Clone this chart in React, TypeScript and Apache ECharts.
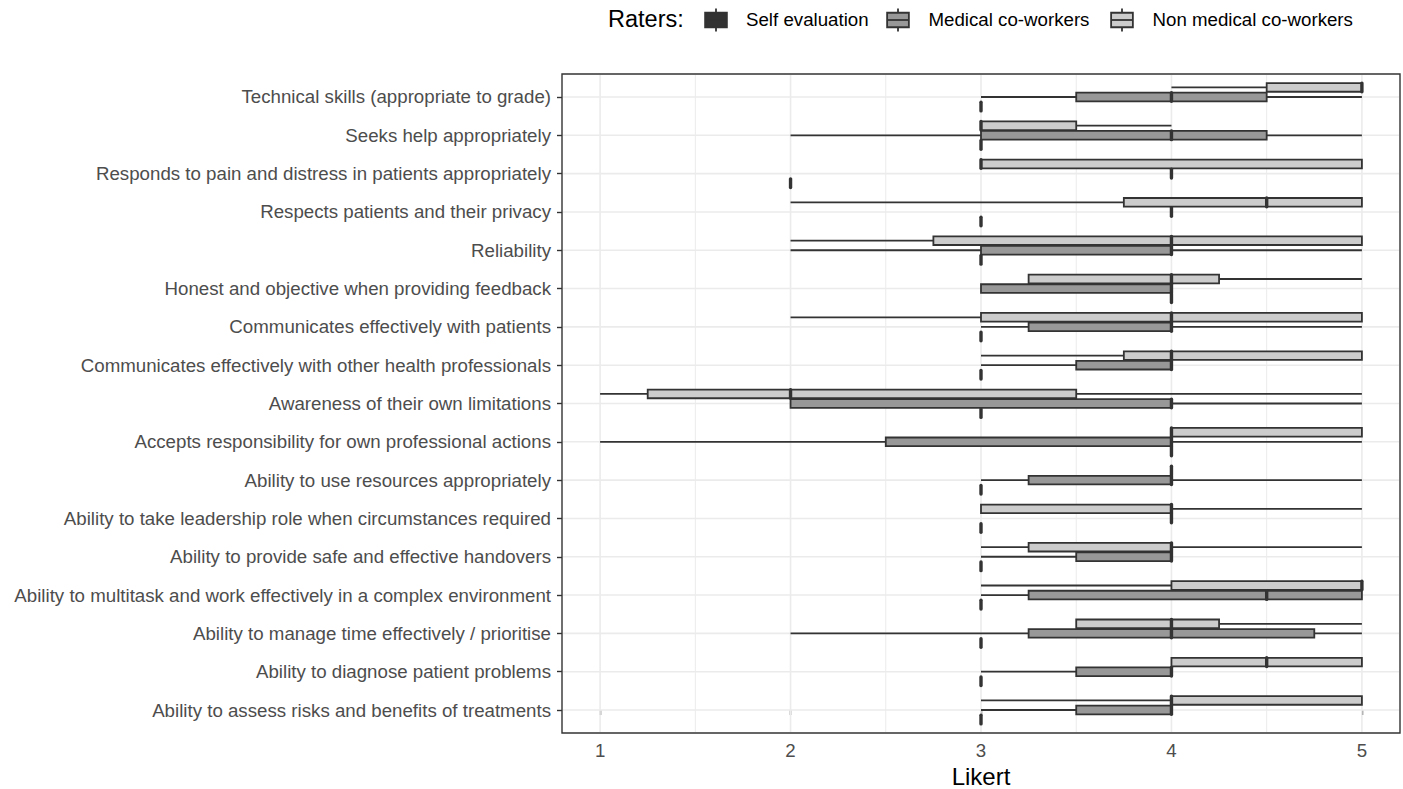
import React, { useEffect, useRef } from "react";
import * as echarts from "echarts";

// Categories listed bottom to top (as on the y axis)
const categories = [
  "Ability to assess risks and benefits of treatments",
  "Ability to diagnose patient problems",
  "Ability to manage time effectively / prioritise",
  "Ability to multitask and work effectively in a complex environment",
  "Ability to provide safe and effective handovers",
  "Ability to take leadership role when circumstances required",
  "Ability to use resources appropriately",
  "Accepts responsibility for own professional actions",
  "Awareness of their own limitations",
  "Communicates effectively with other health professionals",
  "Communicates effectively with patients",
  "Honest and objective when providing feedback",
  "Reliability",
  "Respects patients and their privacy",
  "Responds to pain and distress in patients appropriately",
  "Seeks help appropriately",
  "Technical skills (appropriate to grade)",
];

const raters = ["Self evaluation", "Medical co-workers", "Non medical co-workers"];

// Self evaluation: single score per item
const selfEvaluation = [3, 3, 3, 3, 3, 3, 3, 4, 3, 3, 3, 4, 3, 3, 2, 3, 3];

// [min, q1, median, q3, max]
const medicalCoWorkers = [
  [3, 3.5, 4, 4, 4],
  [3, 3.5, 4, 4, 4],
  [2, 3.25, 4, 4.75, 5],
  [3, 3.25, 4.5, 5, 5],
  [3, 3.5, 4, 4, 4],
  [4, 4, 4, 4, 4],
  [3, 3.25, 4, 4, 5],
  [1, 2.5, 4, 4, 5],
  [2, 2, 4, 4, 5],
  [3, 3.5, 4, 4, 4],
  [3, 3.25, 4, 4, 5],
  [3, 3, 4, 4, 4],
  [2, 3, 4, 4, 5],
  [4, 4, 4, 4, 4],
  [4, 4, 4, 4, 4],
  [2, 3, 4, 4.5, 5],
  [3, 3.5, 4, 4.5, 5],
];

const nonMedicalCoWorkers = [
  [3, 4, 4, 5, 5],
  [4, 4, 4.5, 5, 5],
  [3.5, 3.5, 4, 4.25, 5],
  [3, 4, 5, 5, 5],
  [3, 3.25, 4, 4, 5],
  [3, 3, 4, 4, 5],
  [4, 4, 4, 4, 4],
  [4, 4, 4, 5, 5],
  [1, 1.25, 2, 3.5, 5],
  [3, 3.75, 4, 5, 5],
  [2, 3, 4, 5, 5],
  [3.25, 3.25, 4, 4.25, 5],
  [2, 2.75, 4, 5, 5],
  [2, 3.75, 4.5, 5, 5],
  [3, 3, 3, 5, 5],
  [3, 3, 3, 3.5, 4],
  [4, 4.5, 5, 5, 5],
];

const xTicks = [1, 2, 3, 4, 5];
const xMinorGrid = [1.5, 2.5, 3.5, 4.5];

const FONT = '"Liberation Sans", Arial, Helvetica, sans-serif';
const DARK = "#333333";
const fills = ["#333333", "#989898", "#CCCCCC"];
const dodge = [-0.25, 0, 0.25]; // self (bottom), medical (middle), non-medical (top)
const HALF_BOX = 0.113;
const LABEL_SIZE = 18.7;
const LW = 1.8;

function boxRenderer(off: number, fill: string) {
  return (params: any, api: any) => {
    const c = api.value(0);
    const y = c + off;
    const p = (v: number) => api.coord([v, y]);
    const pMin = p(api.value(1));
    const pQ1 = p(api.value(2));
    const pMed = p(api.value(3));
    const pQ3 = p(api.value(4));
    const pMax = p(api.value(5));
    const yc = pMin[1];
    const hh = Math.abs(api.coord([0, y + HALF_BOX])[1] - yc);
    const children: any[] = [];
    if (pQ1[0] - pMin[0] > 0.5) {
      children.push({ type: "line", shape: { x1: pMin[0], y1: yc, x2: pQ1[0], y2: yc }, style: { stroke: DARK, lineWidth: LW } });
    }
    if (pMax[0] - pQ3[0] > 0.5) {
      children.push({ type: "line", shape: { x1: pQ3[0], y1: yc, x2: pMax[0], y2: yc }, style: { stroke: DARK, lineWidth: LW } });
    }
    children.push({
      type: "rect",
      shape: { x: pQ1[0], y: yc - hh, width: pQ3[0] - pQ1[0], height: 2 * hh },
      style: { fill, stroke: DARK, lineWidth: LW },
    });
    children.push({
      type: "line",
      shape: { x1: pMed[0], y1: yc - hh, x2: pMed[0], y2: yc + hh },
      style: { stroke: DARK, lineWidth: 3.4, lineCap: "round" },
    });
    return { type: "group", children };
  };
}

export default function App() {
  const ref = useRef<HTMLDivElement>(null);

  useEffect(() => {
    if (!ref.current) return;
    const chart = echarts.init(ref.current, undefined, { renderer: "svg" });

    const selfData = selfEvaluation.map((v, i) => [i, v, v, v, v, v]);
    const medData = medicalCoWorkers.map((s, i) => [i, ...s]);
    const nonMedData = nonMedicalCoWorkers.map((s, i) => [i, ...s]);
    const catIdx = categories.map((_, i) => i);

    const gridRender = (params: any, api: any) => {
      const cs = params.coordSys;
      const children: any[] = [];
      xMinorGrid.forEach((v) => {
        const x = api.coord([v, 0])[0];
        children.push({ type: "line", shape: { x1: x, y1: cs.y + 1, x2: x, y2: cs.y + cs.height - 1 }, style: { stroke: "#EBEBEB", lineWidth: 1 } });
      });
      xTicks.forEach((v) => {
        const x = api.coord([v, 0])[0];
        children.push({ type: "line", shape: { x1: x, y1: cs.y + 1, x2: x, y2: cs.y + cs.height - 1 }, style: { stroke: "#EBEBEB", lineWidth: 1.6 } });
      });
      catIdx.forEach((i) => {
        const y = api.coord([3, i])[1];
        children.push({ type: "line", shape: { x1: cs.x + 1, y1: y, x2: cs.x + cs.width - 1, y2: y }, style: { stroke: "#EBEBEB", lineWidth: 1.6 } });
      });
      return { type: "group", children };
    };

    const borderRender = (params: any) => {
      const cs = params.coordSys;
      return { type: "rect", shape: { x: cs.x, y: cs.y, width: cs.width, height: cs.height }, style: { fill: "none", stroke: DARK, lineWidth: 1.4 } };
    };

    // Legend (drawn like ggplot boxplot keys)
    const keyX = [701.5, 883.5, 1107.5];
    const textX = [746, 928.5, 1152.5];
    const KEY = 29;
    const cy = 20;
    const legendEls: any[] = [
      { type: "text", left: 608, top: cy - 13, style: { text: "Raters:", fontSize: 23.5, fontFamily: FONT, fill: "#000" } },
    ];
    raters.forEach((name, k) => {
      const x0 = keyX[k];
      const top = cy - KEY / 2;
      const cx = x0 + KEY / 2;
      legendEls.push({ type: "line", shape: { x1: cx, y1: top + KEY * 0.1, x2: cx, y2: top + KEY * 0.25 }, style: { stroke: DARK, lineWidth: LW } });
      legendEls.push({ type: "line", shape: { x1: cx, y1: top + KEY * 0.75, x2: cx, y2: top + KEY * 0.9 }, style: { stroke: DARK, lineWidth: LW } });
      legendEls.push({ type: "rect", shape: { x: x0 + KEY * 0.125, y: top + KEY * 0.25, width: KEY * 0.75, height: KEY * 0.5 }, style: { fill: fills[k], stroke: DARK, lineWidth: LW } });
      legendEls.push({ type: "line", shape: { x1: x0 + KEY * 0.125, y1: cy, x2: x0 + KEY * 0.875, y2: cy }, style: { stroke: DARK, lineWidth: LW } });
      legendEls.push({ type: "text", left: textX[k], top: cy - 10, style: { text: name, fontSize: LABEL_SIZE, fontFamily: FONT, fill: "#000" } });
    });

    chart.setOption({
      animation: false,
      backgroundColor: "#ffffff",
      textStyle: { fontFamily: FONT },
      grid: { left: 562, right: 3, top: 74, bottom: 56, containLabel: false, outerBoundsMode: "none" },
      xAxis: {
        type: "value",
        min: 0.8,
        max: 5.2,
        name: "Likert",
        nameLocation: "middle",
        nameGap: 31,
        nameTextStyle: { fontSize: 24, color: "#000", fontFamily: FONT },
        axisLine: { show: false },
        splitLine: { show: false },
        axisTick: { show: true, customValues: xTicks, length: 5, lineStyle: { color: DARK, width: 1.4 } },
        axisLabel: { customValues: xTicks, fontSize: LABEL_SIZE, color: "#4D4D4D", margin: 8, fontFamily: FONT },
      },
      yAxis: {
        type: "value",
        min: -0.6,
        max: 16.6,
        axisLine: { show: false },
        splitLine: { show: false },
        axisTick: { show: true, customValues: catIdx, length: 5, lineStyle: { color: DARK, width: 1.4 } },
        axisLabel: {
          customValues: catIdx,
          fontSize: LABEL_SIZE,
          color: "#4D4D4D",
          margin: 11,
          fontFamily: FONT,
          formatter: (v: number) => categories[Math.round(v)] ?? "",
        },
      },
      graphic: legendEls,
      series: [
        { type: "custom", name: "grid", z: 1, silent: true, renderItem: gridRender, data: [[3, 8]], encode: { x: 0, y: 1 } },
        { type: "custom", name: raters[2], z: 3, renderItem: boxRenderer(dodge[2], fills[2]), data: nonMedData, encode: { x: [1, 2, 3, 4, 5], y: 0 } },
        { type: "custom", name: raters[1], z: 3, renderItem: boxRenderer(dodge[1], fills[1]), data: medData, encode: { x: [1, 2, 3, 4, 5], y: 0 } },
        { type: "custom", name: raters[0], z: 3, renderItem: boxRenderer(dodge[0], fills[0]), data: selfData, encode: { x: [1, 2, 3, 4, 5], y: 0 } },
        { type: "custom", name: "border", z: 10, silent: true, renderItem: borderRender, data: [[3, 8]], encode: { x: 0, y: 1 } },
      ],
    });

    return () => chart.dispose();
  }, []);

  return (
    <div
      ref={ref}
      style={{ position: "fixed", left: 0, top: 0, width: 1403, height: 789, background: "#fff" }}
    />
  );
}
